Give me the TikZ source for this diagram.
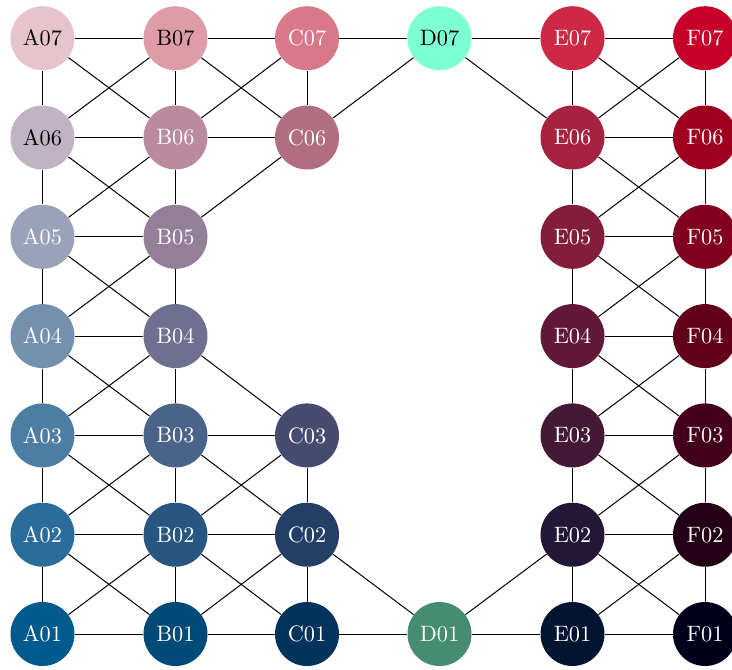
\documentclass[tikz,border=0pt]{standalone}
\begin{document}
\begin{tikzpicture}[x=0.4484pt,y=-0.4484pt,
  vtx/.style={circle,draw=none,minimum size=28.7pt,inner sep=0pt,text=white},
  dk/.style={text=black},
  edge/.style={draw=black,line width=0.45pt}]
\useasboundingbox (0,0) rectangle (732,669);
\definecolor{cA7}{HTML}{E6C4CB}\definecolor{cB7}{HTML}{DE9CA8}\definecolor{cC7}{HTML}{D87888}
\definecolor{cD7}{HTML}{7FFFD4}\definecolor{cE7}{HTML}{CD2947}\definecolor{cF7}{HTML}{C60029}
\definecolor{cA6}{HTML}{BFB3C4}\definecolor{cB6}{HTML}{BA8B9E}\definecolor{cC6}{HTML}{B16E81}
\definecolor{cE6}{HTML}{A72240}\definecolor{cF6}{HTML}{A0001F}
\definecolor{cA5}{HTML}{9AA2BA}\definecolor{cB5}{HTML}{937F98}
\definecolor{cE5}{HTML}{841D3C}\definecolor{cF5}{HTML}{80001E}
\definecolor{cA4}{HTML}{7590AD}\definecolor{cB4}{HTML}{6F7090}
\definecolor{cE4}{HTML}{621838}\definecolor{cF4}{HTML}{62001A}
\definecolor{cA3}{HTML}{4C7DA3}\definecolor{cB3}{HTML}{4A6489}\definecolor{cC3}{HTML}{464B6F}
\definecolor{cE3}{HTML}{431935}\definecolor{cF3}{HTML}{43001A}
\definecolor{cA2}{HTML}{2A6D9B}\definecolor{cB2}{HTML}{275780}\definecolor{cC2}{HTML}{233F66}
\definecolor{cE2}{HTML}{221737}\definecolor{cF2}{HTML}{230016}
\definecolor{cA1}{HTML}{005A8D}\definecolor{cB1}{HTML}{004A78}\definecolor{cC1}{HTML}{01335D}
\definecolor{cD1}{HTML}{458C70}\definecolor{cE1}{HTML}{011530}\definecolor{cF1}{HTML}{00001A}
% columns x: 42.5,175.5,307,439.5,572.5,705 ; rows y: 38.2 + 99.3k
\node[vtx,dk,fill=cA7] (A07) at (42.5,38.2) {A07};
\node[vtx,dk,fill=cB7] (B07) at (175.5,38.2) {B07};
\node[vtx,fill=cC7] (C07) at (307,38.2) {C07};
\node[vtx,dk,fill=cD7] (D07) at (439.5,38.2) {D07};
\node[vtx,fill=cE7] (E07) at (572.5,38.2) {E07};
\node[vtx,fill=cF7] (F07) at (705,38.2) {F07};
\node[vtx,dk,fill=cA6] (A06) at (42.5,137.5) {A06};
\node[vtx,fill=cB6] (B06) at (175.5,137.5) {B06};
\node[vtx,fill=cC6] (C06) at (307,137.5) {C06};
\node[vtx,fill=cE6] (E06) at (572.5,137.5) {E06};
\node[vtx,fill=cF6] (F06) at (705,137.5) {F06};
\node[vtx,fill=cA5] (A05) at (42.5,236.8) {A05};
\node[vtx,fill=cB5] (B05) at (175.5,236.8) {B05};
\node[vtx,fill=cE5] (E05) at (572.5,236.8) {E05};
\node[vtx,fill=cF5] (F05) at (705,236.8) {F05};
\node[vtx,fill=cA4] (A04) at (42.5,336.1) {A04};
\node[vtx,fill=cB4] (B04) at (175.5,336.1) {B04};
\node[vtx,fill=cE4] (E04) at (572.5,336.1) {E04};
\node[vtx,fill=cF4] (F04) at (705,336.1) {F04};
\node[vtx,fill=cA3] (A03) at (42.5,435.4) {A03};
\node[vtx,fill=cB3] (B03) at (175.5,435.4) {B03};
\node[vtx,fill=cC3] (C03) at (307,435.4) {C03};
\node[vtx,fill=cE3] (E03) at (572.5,435.4) {E03};
\node[vtx,fill=cF3] (F03) at (705,435.4) {F03};
\node[vtx,fill=cA2] (A02) at (42.5,534.7) {A02};
\node[vtx,fill=cB2] (B02) at (175.5,534.7) {B02};
\node[vtx,fill=cC2] (C02) at (307,534.7) {C02};
\node[vtx,fill=cE2] (E02) at (572.5,534.7) {E02};
\node[vtx,fill=cF2] (F02) at (705,534.7) {F02};
\node[vtx,fill=cA1] (A01) at (42.5,634) {A01};
\node[vtx,fill=cB1] (B01) at (175.5,634) {B01};
\node[vtx,fill=cC1] (C01) at (307,634) {C01};
\node[vtx,fill=cD1] (D01) at (439.5,634) {D01};
\node[vtx,fill=cE1] (E01) at (572.5,634) {E01};
\node[vtx,fill=cF1] (F01) at (705,634) {F01};
\foreach \a/\b in {A07/B07,B07/C07,C07/D07,D07/E07,E07/F07,
  A07/A06,B07/B06,C07/C06,E07/E06,F07/F06,
  A07/B06,A06/B07,B07/C06,B06/C07,D07/C06,D07/E06,E07/F06,E06/F07,
  A06/B06,B06/C06,E06/F06,
  A06/A05,B06/B05,E06/E05,F06/F05,
  A06/B05,A05/B06,C06/B05,E06/F05,E05/F06,
  A05/B05,E05/F05,
  A05/A04,B05/B04,E05/E04,F05/F04,
  A05/B04,A04/B05,E05/F04,E04/F05,
  A04/B04,E04/F04,B04/C03,
  A04/A03,B04/B03,E04/E03,F04/F03,
  A04/B03,A03/B04,E04/F03,E03/F04,
  A03/B03,B03/C03,E03/F03,
  A03/A02,B03/B02,C03/C02,E03/E02,F03/F02,
  A03/B02,A02/B03,B03/C02,B02/C03,E03/F02,E02/F03,
  A02/B02,B02/C02,E02/F02,
  A02/A01,B02/B01,C02/C01,E02/E01,F02/F01,
  A02/B01,A01/B02,B02/C01,B01/C02,C02/D01,D01/E02,E02/F01,E01/F02,
  A01/B01,B01/C01,C01/D01,D01/E01,E01/F01}
  \draw[edge] (\a) -- (\b);
\end{tikzpicture}
\end{document}
